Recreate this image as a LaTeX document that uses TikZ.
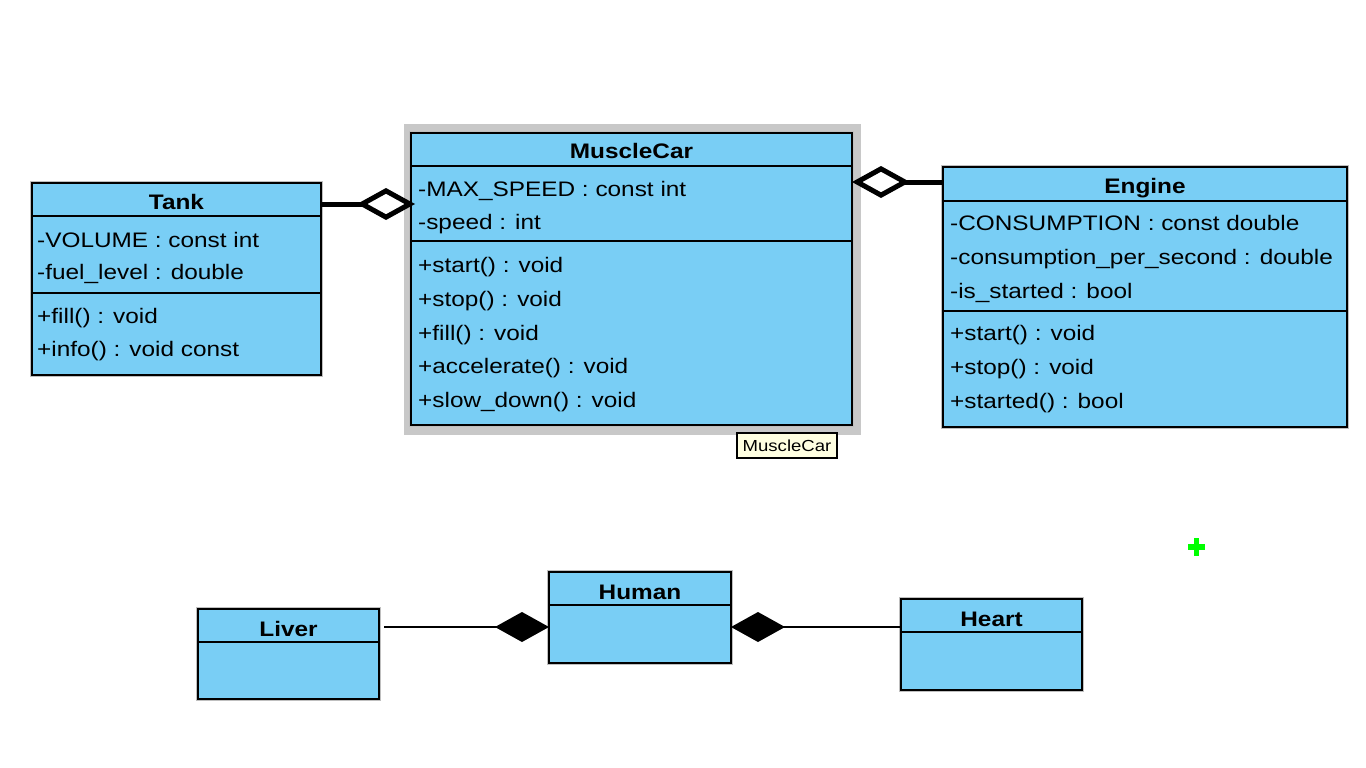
\documentclass[tikz,border=0pt]{standalone}
\usepackage{fontspec}
\setmainfont[FakeStretch=1.16]{Liberation Sans}
\usetikzlibrary{arrows.meta}
\definecolor{umlblue}{RGB}{121,206,245}
\definecolor{tipcream}{RGB}{255,255,225}
\definecolor{selgray}{RGB}{200,200,200}
\definecolor{cursorgreen}{RGB}{0,255,0}
\begin{document}
\begin{tikzpicture}[x=1pt,y=-1pt,
  classbox/.style={draw=black, line width=2pt, fill=umlblue, preaction={draw=black!25, line width=4pt}, inner sep=0pt, outer sep=0pt, anchor=north west},
  ttl/.style={font=\fontsize{21}{25}\selectfont\bfseries, anchor=base, inner sep=0pt},
  mem/.style={font=\fontsize{21}{25}\selectfont, anchor=base west, inner sep=0pt},
  sepline/.style={line width=2pt},
  agg/.style={line width=5pt, -{Diamond[open, length=58pt, width=32pt]}},
  comp/.style={line width=1.5pt, draw=black, -{Diamond[length=54pt, width=30pt]}},
]
\fill[white] (0,0) rectangle (1366,768);
\useasboundingbox (0,0) rectangle (1366,768);

% ---------- Tank ----------
\node[classbox, minimum width=289pt, minimum height=192pt] (tank) at (32,183) {};
\draw[sepline] (tank.west |- 0,216) -- (tank.east |- 0,216);
\draw[sepline] (tank.west |- 0,293) -- (tank.east |- 0,293);
\node[ttl] (tankT) at (176.5,209) {Tank};
\node[mem] (tank1) at (37,247) {-VOLUME : const int};
\node[mem] (tank2) at (37,279) {-fuel\_level : double};
\node[mem] (tank3) at (37,323) {+fill() : void};
\node[mem] (tank4) at (37,356) {+info() : void const};

% ---------- MuscleCar ----------
\node[fill=selgray, inner sep=0pt, outer sep=0pt, anchor=north west, minimum width=457pt, minimum height=311pt] (sel) at (404,124) {};
\node[classbox, minimum width=441pt, minimum height=292pt] (mc) at (411,133) {};
\draw[sepline] (mc.west |- 0,166) -- (mc.east |- 0,166);
\draw[sepline] (mc.west |- 0,241) -- (mc.east |- 0,241);
\node[ttl] (mcT) at (631.5,158) {MuscleCar};
\node[mem] (mc1) at (418,196) {-MAX\_SPEED : const int};
\node[mem] (mc2) at (418,229) {-speed : int};
\node[mem] (mc3) at (418,272) {+start() : void};
\node[mem] (mc4) at (418,306) {+stop() : void};
\node[mem] (mc5) at (418,340) {+fill() : void};
\node[mem] (mc6) at (418,373) {+accelerate() : void};
\node[mem] (mc7) at (418,407) {+slow\_down() : void};

% tooltip
\node[draw=black, line width=1.5pt, fill=tipcream, inner sep=0pt, minimum width=100pt, minimum height=25pt, font=\fontsize{16}{18}\selectfont] (tip) at (787,445.5) {MuscleCar};

% ---------- Engine ----------
\node[classbox, minimum width=404pt, minimum height=260pt] (engine) at (943,167) {};
\draw[sepline] (engine.west |- 0,201) -- (engine.east |- 0,201);
\draw[sepline] (engine.west |- 0,311) -- (engine.east |- 0,311);
\node[ttl] (engT) at (1145,193) {Engine};
\node[mem] (eng1) at (950,230) {-CONSUMPTION : const double};
\node[mem] (eng2) at (950,264) {-consumption\_per\_second : double};
\node[mem] (eng3) at (950,298) {-is\_started : bool};
\node[mem] (eng4) at (950,340) {+start() : void};
\node[mem] (eng5) at (950,374) {+stop() : void};
\node[mem] (eng6) at (950,408) {+started() : bool};

% ---------- Liver / Human / Heart ----------
\node[classbox, minimum width=181pt, minimum height=90pt] (liver) at (198,609) {};
\draw[sepline] (liver.west |- 0,642) -- (liver.east |- 0,642);
\node[ttl] (liverT) at (288.5,636) {Liver};

\node[classbox, minimum width=182pt, minimum height=91pt] (human) at (549,572) {};
\draw[sepline] (human.west |- 0,605) -- (human.east |- 0,605);
\node[ttl] (humanT) at (640,599) {Human};

\node[classbox, minimum width=181pt, minimum height=91pt] (heart) at (901,599) {};
\draw[sepline] (heart.west |- 0,632) -- (heart.east |- 0,632);
\node[ttl] (heartT) at (991.5,626) {Heart};

% ---------- connectors ----------
\coordinate (ya) at (0,204);
\coordinate (yb) at (0,182);
\coordinate (yc) at (0,627);
\coordinate (xa) at (415,0);
\coordinate (xc) at (384,0);
\draw[agg] (tank.east |- ya) -- (xa |- ya);
\draw[agg] (engine.west |- yb) -- (mc.east |- yb);
\draw[comp] (xc |- yc) -- (human.west |- yc);
\draw[comp] (heart.west |- yc) -- (human.east |- yc);

% green cursor
\draw[cursorgreen, line width=6pt] (1188,546.5) -- (1205,546.5);
\draw[cursorgreen, line width=5pt] (1196.5,538) -- (1196.5,556);
\end{tikzpicture}
\end{document}
